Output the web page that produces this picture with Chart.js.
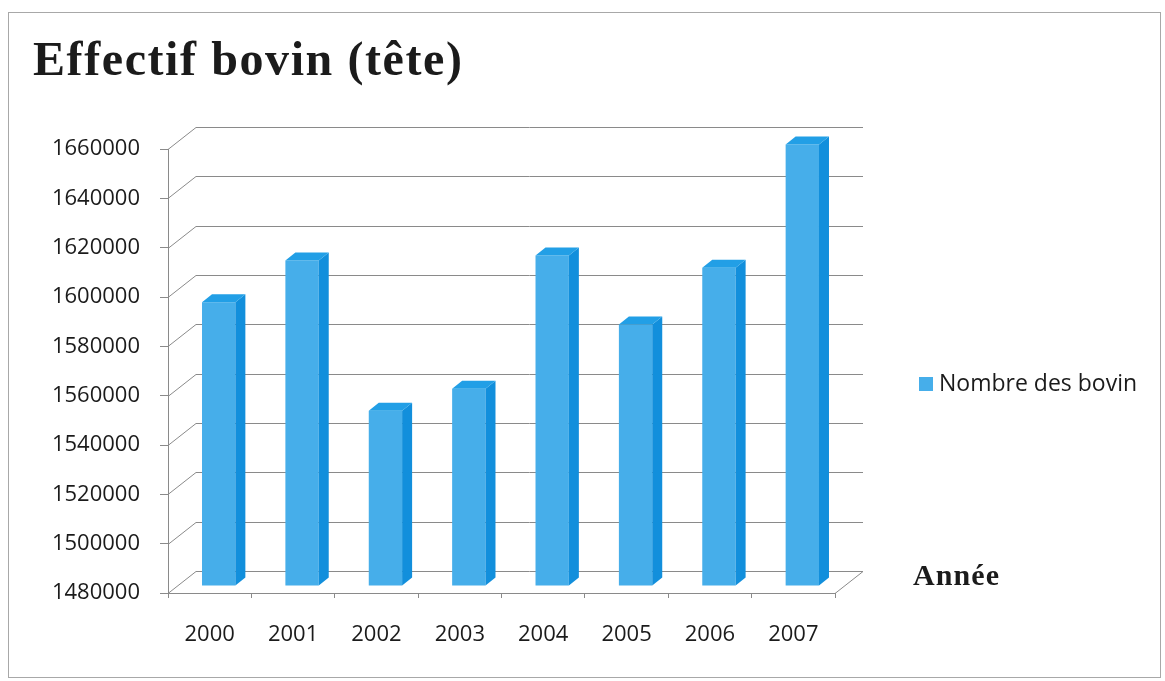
<!DOCTYPE html>
<html lang="fr">
<head>
<meta charset="utf-8">
<title>Effectif bovin (tête)</title>
<script src="https://cdn.jsdelivr.net/npm/chart.js@4.4.1/dist/chart.umd.min.js"></script>
<style>
  html, body { margin: 0; padding: 0; background: #fff; }
  #cadre {
    position: absolute; left: 8px; top: 12px;
    width: 1151px; height: 664px;
    border: 1px solid #a8a8a8;
  }
  #graphique { position: absolute; left: 0; top: 0; }
</style>
</head>
<body>
<div id="cadre"></div>
<canvas id="graphique" width="1165" height="681"></canvas>
<script>
// ===============================
// DONNÉES
// ===============================
const annees = ["2000", "2001", "2002", "2003", "2004", "2005", "2006", "2007"];
const nombreBovins = [1595000, 1612000, 1551000, 1560000, 1614000, 1586000, 1609000, 1659000];
const graduationsY = [1480000, 1500000, 1520000, 1540000, 1560000, 1580000, 1600000, 1620000, 1640000, 1660000];

const titre = "Effectif bovin (tête)";
const titreAxeX = "Année";
const libelleSerie = "Nombre des bovin";

// couleurs des faces des barres
const couleurFace = "#46aeea";
const couleurCote = "#128fdc";
const couleurDessus = "#229fe6";
const couleurGrille = "#8a8a8a";
const couleurTexte = "#1b1b1b";

// profondeur du fond et des barres (pseudo 3D)
const fond = { dx: 28, dy: 22 };
const barre = { dx: 10, dy: 8 };
const decalBarre = { dx: 9, dy: 7 };

// ===============================
// HELPER : texte ajusté à une largeur
// ===============================
function texteLarge(ctx, texte, x, y, largeur) {
  ctx.letterSpacing = "0px";
  const w = ctx.measureText(texte).width;
  const esp = Math.max(0, (largeur - w) / (texte.length - 1));
  ctx.letterSpacing = esp.toFixed(2) + "px";
  ctx.fillText(texte, x, y);
  ctx.letterSpacing = "0px";
}

// ===============================
// PLUGIN 3D
// ===============================
const effet3D = {
  id: "effet3D",

  beforeDatasetsDraw(chart) {
    const { ctx, chartArea: a, scales: { y } } = chart;

    // paroi du fond : lignes de grille décalées
    ctx.save();
    ctx.strokeStyle = couleurGrille;
    ctx.lineWidth = 1;
    y.ticks.forEach(t => {
      const py = Math.round(y.getPixelForValue(t.value)) + 0.5;
      ctx.beginPath();
      ctx.moveTo(a.left, py);
      ctx.lineTo(a.left + fond.dx, py - fond.dy);
      ctx.lineTo(a.right + fond.dx, py - fond.dy);
      ctx.stroke();
    });
    // bord droit du plancher
    ctx.beginPath();
    ctx.moveTo(a.right, a.bottom + 0.5);
    ctx.lineTo(a.right + fond.dx, a.bottom + 0.5 - fond.dy);
    ctx.stroke();
    ctx.restore();

    // les barres sont placées au milieu de la profondeur
    ctx.save();
    ctx.translate(decalBarre.dx, -decalBarre.dy);
  },

  afterDatasetsDraw(chart) {
    const { ctx } = chart;
    const meta = chart.getDatasetMeta(0);

    meta.data.forEach(el => {
      const { x, y, base, width } = el.getProps(["x", "y", "base", "width"], true);
      const g = x - width / 2;
      const d = x + width / 2;

      // côté droit
      ctx.fillStyle = couleurCote;
      ctx.beginPath();
      ctx.moveTo(d, y);
      ctx.lineTo(d + barre.dx, y - barre.dy);
      ctx.lineTo(d + barre.dx, base - barre.dy);
      ctx.lineTo(d, base);
      ctx.closePath();
      ctx.fill();

      // dessus
      ctx.fillStyle = couleurDessus;
      ctx.beginPath();
      ctx.moveTo(g, y);
      ctx.lineTo(g + barre.dx, y - barre.dy);
      ctx.lineTo(d + barre.dx, y - barre.dy);
      ctx.lineTo(d, y);
      ctx.closePath();
      ctx.fill();
    });

    ctx.restore();
  },

  afterDraw(chart) {
    const { ctx } = chart;
    ctx.save();
    ctx.fillStyle = couleurTexte;
    ctx.textBaseline = "alphabetic";

    // titre
    ctx.font = "bold 48px 'Liberation Serif', serif";
    texteLarge(ctx, titre, 33, 75, 429);

    // titre de l'axe des abscisses
    ctx.font = "bold 30px 'Liberation Serif', serif";
    texteLarge(ctx, titreAxeX, 913, 585, 86);

    // légende
    ctx.fillStyle = chart.data.datasets[0].backgroundColor;
    ctx.fillRect(919, 377, 14, 14);
    ctx.fillStyle = couleurTexte;
    ctx.font = "23px 'Open Sans', sans-serif";
    ctx.textBaseline = "middle";
    ctx.fillText(chart.data.datasets[0].label, 939, 384);

    ctx.restore();
  }
};

// ===============================
// GRAPHIQUE
// ===============================
const policeAxes = { family: "'Open Sans', sans-serif", size: 22 };

new Chart(document.getElementById("graphique"), {
  type: "bar",
  data: {
    labels: annees,
    datasets: [{
      label: libelleSerie,
      data: nombreBovins,
      base: graduationsY[0],
      backgroundColor: couleurFace,
      borderWidth: 0,
      barPercentage: 0.4,
      categoryPercentage: 1,
      clip: false
    }]
  },
  options: {
    responsive: false,
    animation: false,
    layout: { padding: { left: 0, top: 149, right: 330, bottom: 0 } },
    plugins: {
      legend: { display: false },
      title: { display: false },
      tooltip: { enabled: false }
    },
    scales: {
      x: {
        afterFit: s => { s.height = 88; },
        grid: {
          offset: true,
          drawOnChartArea: false,
          drawTicks: true,
          tickLength: 5,
          color: couleurGrille
        },
        border: { display: true, color: couleurGrille },
        ticks: { color: couleurTexte, font: policeAxes, padding: 24, maxRotation: 0 }
      },
      y: {
        min: graduationsY[0],
        max: graduationsY[graduationsY.length - 1],
        afterBuildTicks: s => { s.ticks = graduationsY.map(v => ({ value: v })); },
        afterFit: s => { s.width = 168; },
        grid: {
          drawOnChartArea: false,
          drawTicks: true,
          tickLength: 8,
          color: couleurGrille
        },
        border: { display: true, color: couleurGrille },
        ticks: {
          color: couleurTexte,
          font: policeAxes,
          padding: 20,
          callback: v => String(v)
        }
      }
    }
  },
  plugins: [effet3D]
});
</script>
</body>
</html>
